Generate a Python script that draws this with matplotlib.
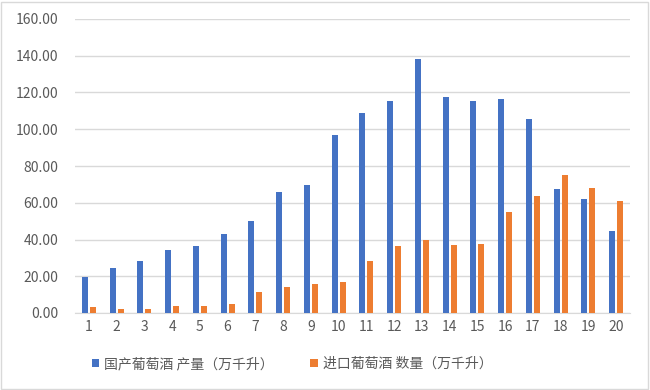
import numpy as np
import matplotlib.pyplot as plt
from matplotlib.patches import Rectangle

plt.rcParams['font.family'] = ['Noto Sans CJK SC', 'DejaVu Sans']

categories = [str(i) for i in range(1, 21)]
domestic = [19.5, 24.5, 28.2, 34.2, 36.4, 42.9, 49.8, 65.8, 69.6, 96.9,
            108.7, 115.5, 138.4, 117.6, 115.5, 116.2, 105.8, 67.3, 62.2, 44.4]
imported = [3.3, 2.4, 2.4, 4.0, 4.0, 4.7, 11.3, 14.4, 15.6, 17.1,
            28.2, 36.4, 39.5, 37.1, 37.8, 54.9, 63.6, 74.9, 68.2, 60.9]
series_names = ['国产葡萄酒 产量（万千升）', '进口葡萄酒 数量（万千升）']
yticks = [0, 20, 40, 60, 80, 100, 120, 140, 160]

blue = '#4472C4'
orange = '#ED7D31'
grey = '#595959'

fig = plt.figure(figsize=(6.5, 3.9), dpi=100)
# light border around the whole chart
fig.patches.append(Rectangle((0.002, 0.003), 0.995, 0.993, transform=fig.transFigure,
                             fill=False, edgecolor='#D9D9D9', linewidth=1))
ax = fig.add_axes([75 / 650, 1 - 313 / 390, 555 / 650, 294 / 390])

x = np.arange(len(categories))
w = 0.21
ax.bar(x - 0.145, domestic, width=w, color=blue, label=series_names[0], zorder=3)
ax.bar(x + 0.145, imported, width=w, color=orange, label=series_names[1], zorder=3)

ax.set_xlim(-0.5, len(categories) - 0.5)
ax.set_ylim(0, 160)
ax.set_yticks(yticks)
ax.set_yticklabels([f'{v:.2f}' for v in yticks])
ax.set_xticks(x)
ax.set_xticklabels(categories)
ax.tick_params(axis='both', length=0, labelsize=10, colors=grey)
ax.tick_params(axis='y', pad=12)
ax.tick_params(axis='x', pad=5)
ax.grid(axis='y', color='#D9D9D9', linewidth=1, zorder=0)
for s in ['top', 'right', 'left']:
    ax.spines[s].set_visible(False)
ax.spines['bottom'].set_color('#D9D9D9')

leg = fig.legend(loc='center', bbox_to_anchor=(292 / 650, 1 - 364 / 390), ncol=2, frameon=False,
                 fontsize=10, handlelength=0.55, handleheight=0.55, handletextpad=0.35,
                 columnspacing=2.6)
for t in leg.get_texts():
    t.set_color(grey)

fig.savefig('out.png', dpi=100)
